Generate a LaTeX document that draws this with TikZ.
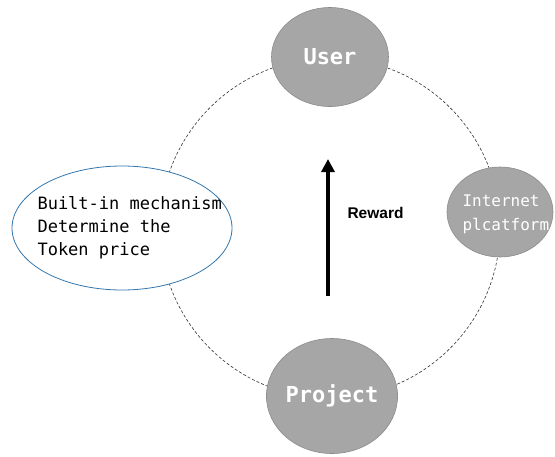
\documentclass[tikz,border=0pt]{standalone}
\usepackage{fontspec}
\setmainfont{Liberation Sans}
\newfontfamily\monofont{DejaVu Sans Mono}
\usetikzlibrary{shapes.geometric,arrows.meta}
\begin{document}
\begin{tikzpicture}[x=1pt,y=-1pt,
  party/.style={ellipse,fill=black!35,draw=black!45,line width=0.6pt,
    text=white,inner sep=0pt,align=center},
  note/.style={ellipse,fill=white,draw=blue!45!cyan!60!black!80,line width=0.8pt,inner sep=0pt},
  ring/.style={draw=black!80,line width=0.6pt,dash pattern=on 3pt off 2pt}]
\useasboundingbox (0,0) rectangle (555,456);
% exchange cycle
\coordinate (hub) at (330,228);
\draw[ring] (hub) circle[radius=170];
% participants
\node[party,minimum width=117,minimum height=99,font=\monofont\bfseries\fontsize{22}{24}\selectfont] (user) at (330,57) {User};
\node[party,minimum width=121,minimum height=115,font=\monofont\bfseries\fontsize{22}{24}\selectfont] (project) at (332,396) {Project};
\node[party,minimum width=106,minimum height=90] (internet) at (500,212) {};
\node[text=white,font=\monofont\fontsize{16}{24}\selectfont,align=left,anchor=west] (internettext) at (459,214) {Internet\\plcatform};
\node[note,minimum width=220,minimum height=124] (pricing) at (122,228) {};
\node[font=\monofont\fontsize{17}{23}\selectfont,align=left,anchor=west] (pricetext) at (34,228) {Built-in mechanism\\Determine the\\Token price};
% reward flow
\coordinate (rewardlow) at (328,296);
\coordinate (rewardhigh) at (328,159);
\draw[line width=3.6pt,-{Triangle[length=13pt,width=13pt]}] (rewardlow) -- (rewardhigh);
\node[font=\bfseries\fontsize{15.5}{18}\selectfont,anchor=west] (reward) at (344,213) {Reward};
\end{tikzpicture}
\end{document}
